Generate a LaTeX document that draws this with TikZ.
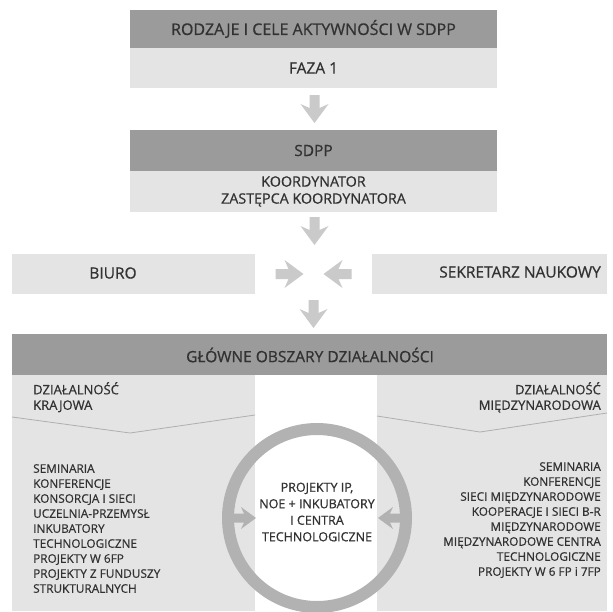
\documentclass[tikz,border=0pt]{standalone}
\usepackage{fontspec}
\setmainfont{Open Sans}[FakeBold=0.7]
\usetikzlibrary{calc}
\definecolor{bandd}{RGB}{155,155,155}
\definecolor{bandl}{RGB}{228,228,228}
\definecolor{arrowc}{RGB}{202,202,202}
\definecolor{ringc}{RGB}{178,178,178}
\definecolor{txt}{RGB}{50,50,50}
\definecolor{linec}{RGB}{175,175,175}
\begin{document}
\begin{tikzpicture}[x=1pt,y=-1pt,
  box/.style={draw=none,inner sep=0pt,outer sep=0pt,anchor=north west,text=txt},
  darkbox/.style={box,fill=bandd},
  lightbox/.style={box,fill=bandl},
  bigtext/.style={text=txt,inner sep=0pt,font=\fontsize{15.5}{17}\selectfont},
  subtext/.style={text=txt,inner sep=0pt,font=\fontsize{13}{15.5}\selectfont},
  listtext/.style={text=txt,inner sep=0pt,font=\fontsize{11.8}{15}\selectfont},
  fatarrow/.pic={\fill[arrowc] (0,-5) -- (13,-5) -- (9,-14) -- (28,0) -- (9,14) -- (13,5) -- (0,5) -- cycle;},
  ringarrow/.pic={\fill[ringc] (0,-4.5) -- (10,-4.5) -- (7,-11) -- (22,0) -- (7,11) -- (10,4.5) -- (0,4.5) -- cycle;}
]
\useasboundingbox (0,0) rectangle (613,611);
\fill[white] (0,0) rectangle (613,611);

% top block
\node[darkbox,minimum width=367pt,minimum height=38pt] (title) at (130,10) {};
\node[lightbox,minimum width=367pt,minimum height=40pt] (faza) at (130,48) {};
\node[bigtext,font=\fontsize{16}{18}\selectfont] (titletxt) at (title.center) {RODZAJE I CELE AKTYWNOŚCI W SDPP};
\node[bigtext] (fazatxt) at (faza.center) {FAZA 1};

% SDPP block
\node[darkbox,minimum width=367pt,minimum height=41pt] (sdpp) at (130,130) {};
\node[lightbox,minimum width=367pt,minimum height=41pt] (koord) at (130,171) {};
\node[bigtext] (sdpptxt) at (sdpp.center) {SDPP};
\node[bigtext,align=center,font=\fontsize{14.3}{17}\selectfont] (koordtxt) at (koord.center) {KOORDYNATOR\\ZASTĘPCA KOORDYNATORA};

% Biuro / Sekretarz
\node[lightbox,minimum width=243pt,minimum height=40pt] (biuro) at (12,254) {};
\node[lightbox,minimum width=235pt,minimum height=40pt] (sekr) at (372,254) {};
\node[bigtext] (biurotxt) at (113,273) {BIURO};
\node[bigtext,anchor=east] (sekrtxt) at (601,272) {SEKRETARZ NAUKOWY};

% main areas
\node[darkbox,minimum width=595pt,minimum height=41pt] (glowne) at (12,334) {};
\node[lightbox,minimum width=243pt,minimum height=236pt] (lewy) at (12,375) {};
\node[lightbox,minimum width=230pt,minimum height=236pt] (prawy) at (377,375) {};
\node[bigtext] (glownetxt) at (310,355) {GŁÓWNE OBSZARY DZIAŁALNOŚCI};

% chevron lines
\draw[linec,line width=0.8pt] (lewy.north west) ++(0,42) -- ++(118,16) -- (lewy.north east |- 0,415);
\draw[linec,line width=0.8pt] (prawy.north west) ++(0,41) -- ++(103,16) -- (prawy.north east |- 0,413);

\node[subtext,anchor=north west,align=left] (krajtxt) at (33,382) {DZIAŁALNOŚĆ\\KRAJOWA};
\node[subtext,anchor=north east,align=right] (miedztxt) at (601,382) {DZIAŁALNOŚĆ\\MIĘDZYNARODOWA};

\node[listtext,anchor=north west,align=left] (lista1) at (33,464) {SEMINARIA\\KONFERENCJE\\KONSORCJA I SIECI\\UCZELNIA-PRZEMYSŁ\\INKUBATORY\\TECHNOLOGICZNE\\PROJEKTY W 6FP\\PROJEKTY Z FUNDUSZY\\STRUKTURALNYCH};
\node[listtext,anchor=north east,align=right] (lista2) at (601,462) {SEMINARIA\\KONFERENCJE\\SIECI MIĘDZYNARODOWE\\KOOPERACJE I SIECI B-R\\MIĘDZYNARODOWE\\MIĘDZYNARODOWE CENTRA\\TECHNOLOGICZNE\\PROJEKTY W 6 FP i 7FP};

% ring
\node[circle,draw=ringc,line width=12pt,minimum size=178pt,inner sep=0pt] (ring) at (317,518) {};
\node[text=txt,inner sep=0pt,align=center,font=\fontsize{12.5}{16.5}\selectfont] (centrum) at ($(ring.center)+(0,-6)$) {PROJEKTY IP,\\NOE + INKUBATORY\\I CENTRA\\TECHNOLOGICZNE};
\pic at ($(ring.west)+(12,0)$) {ringarrow};
\pic[rotate=180] at ($(ring.east)+(-12,0)$) {ringarrow};

% arrows
\pic[rotate=-90] at ($(faza.south)+(1,7)$) {fatarrow};
\pic[rotate=-90] at ($(koord.south)+(1,5)$) {fatarrow};
\coordinate (mid) at ($(biuro.east)!0.5!(sekr.west)$);
\pic at ($(mid)+(-38,0)$) {fatarrow};
\pic[rotate=180] at ($(mid)+(38,0)$) {fatarrow};
\pic[rotate=-90] at ($(mid |- biuro.south)+(0,6)$) {fatarrow};
\end{tikzpicture}
\end{document}
